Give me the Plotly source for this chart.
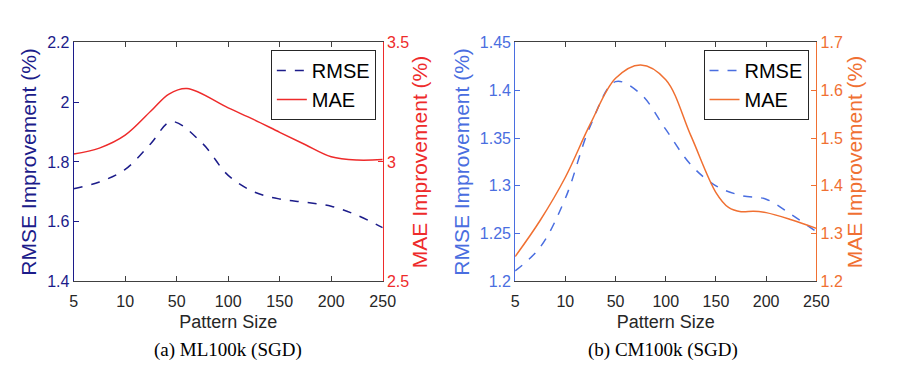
import plotly.graph_objects as go

# Category tick labels (evenly spaced on the x axis)
pattern_sizes = ["5", "10", "50", "100", "150", "200", "250"]
tick_pos = [0, 1, 2, 3, 4, 5, 6]

# Curves; positions are in units of category index
# (a) ML100k (SGD)
ml_rmse_pos = [0, 0.5, 1, 1.5, 1.9, 2.5, 3, 3.5, 4, 4.5, 5, 5.5, 6]
ml_rmse = [1.710, 1.733, 1.775, 1.862, 1.935, 1.862, 1.755, 1.700, 1.676, 1.665, 1.652, 1.622, 1.580]
ml_mae_pos = [0, 0.5, 1, 1.5, 1.85, 2.2, 3, 3.5, 4, 4.5, 5, 5.5, 6]
ml_mae = [3.033, 3.058, 3.112, 3.213, 3.284, 3.307, 3.226, 3.177, 3.124, 3.072, 3.022, 3.008, 3.010]

# (b) CM100k (SGD)
cm_rmse_pos = [0, 0.5, 1, 1.5, 2, 2.5, 3, 3.5, 4, 4.5, 5, 5.5, 6]
cm_rmse = [1.211, 1.236, 1.287, 1.363, 1.409, 1.396, 1.359, 1.322, 1.300, 1.290, 1.286, 1.270, 1.252]
cm_mae_pos = [0, 0.5, 1, 1.5, 2, 2.5, 3, 3.5, 4, 4.25, 4.5, 4.75, 5, 5.5, 6]
cm_mae = [1.252, 1.328, 1.418, 1.530, 1.625, 1.653, 1.622, 1.505, 1.386, 1.355, 1.346, 1.347, 1.344, 1.329, 1.311]

NAVY = "#1c1c8a"
RED = "#ee2b2b"
BLUE = "#4a6ee0"
ORANGE = "#f07032"
FRAME = "#404040"
FONT = "Liberation Sans, Arial, sans-serif"

fig = go.Figure()

fig.add_trace(go.Scatter(x=ml_rmse_pos, y=ml_rmse, name="RMSE", mode="lines",
                         line=dict(color=NAVY, width=1.5, dash="dash", shape="spline", smoothing=1.0),
                         xaxis="x", yaxis="y", legend="legend"))
fig.add_trace(go.Scatter(x=ml_mae_pos, y=ml_mae, name="MAE", mode="lines",
                         line=dict(color=RED, width=1.5, shape="spline", smoothing=1.0),
                         xaxis="x", yaxis="y2", legend="legend"))
fig.add_trace(go.Scatter(x=cm_rmse_pos, y=cm_rmse, name="RMSE", mode="lines",
                         line=dict(color=BLUE, width=1.5, dash="dash", shape="spline", smoothing=1.0),
                         xaxis="x2", yaxis="y3", legend="legend2"))
fig.add_trace(go.Scatter(x=cm_mae_pos, y=cm_mae, name="MAE", mode="lines",
                         line=dict(color=ORANGE, width=1.5, shape="spline", smoothing=1.0),
                         xaxis="x2", yaxis="y4", legend="legend2"))

W, H = 900, 388
ydom = [(H - 286) / H, (H - 36) / H]

def xaxis(dom, anchor):
    return dict(domain=dom, anchor=anchor, range=[0, 6], tickvals=tick_pos, ticktext=pattern_sizes,
                showgrid=False, zeroline=False, showline=True, linecolor=FRAME, linewidth=1,
                mirror="ticks", ticks="inside", ticklen=5, tickcolor=FRAME, ticklabelstandoff=5,
                tickfont=dict(family=FONT, size=16, color="#262626"),
                title=dict(text="Pattern Size", font=dict(family=FONT, size=18, color="#262626"), standoff=6))

def yaxis(rng, dtick, color, title, side, anchor, overlaying=None, standoff=4):
    d = dict(domain=ydom, anchor=anchor, range=rng, dtick=dtick, side=side,
             showgrid=False, zeroline=False, showline=True, linecolor=color, linewidth=1,
             ticks="inside", ticklen=5, tickcolor=color,
             tickfont=dict(family=FONT, size=16, color=color),
             title=dict(text=title, font=dict(family=FONT, size=21, color=color), standoff=standoff))
    if overlaying:
        d["overlaying"] = overlaying
    return d

legend_style = dict(xanchor="right", yanchor="top", bordercolor="#262626", borderwidth=1,
                    bgcolor="white", font=dict(family=FONT, size=20, color="black"),
                    tracegroupgap=0, itemwidth=30)

fig.update_layout(
    width=W, height=H,
    margin=dict(l=0, r=0, t=0, b=0),
    paper_bgcolor="white", plot_bgcolor="white",
    xaxis=xaxis([71 / W, 386 / W], "y"),
    yaxis=yaxis([1.4, 2.2], 0.2, NAVY, "RMSE Improvement (%)", "left", "x"),
    yaxis2=yaxis([2.5, 3.5], 0.5, RED, "MAE Improvement (%)", "right", "x", overlaying="y"),
    xaxis2=xaxis([521 / W, 828 / W], "y3"),
    yaxis3=yaxis([1.2, 1.45], 0.05, BLUE, "RMSE Improvement (%)", "left", "x2"),
    yaxis4=yaxis([1.2, 1.7], 0.1, ORANGE, "MAE Improvement (%)", "right", "x2", overlaying="y3"),
    legend=dict(x=379 / W, y=(H - 44) / H, **legend_style),
    legend2=dict(x=820 / W, y=(H - 44) / H, **legend_style),
    showlegend=True,
    annotations=[
        dict(text="(a) ML100k (SGD)", x=228 / W, y=(H - 358) / H, xref="paper", yref="paper",
             xanchor="center", yanchor="middle", showarrow=False,
             font=dict(family="Liberation Serif, serif", size=19, color="black")),
        dict(text="(b) CM100k (SGD)", x=672 / W, y=(H - 358) / H, xref="paper", yref="paper",
             xanchor="center", yanchor="middle", showarrow=False,
             font=dict(family="Liberation Serif, serif", size=19, color="black")),
    ],
)

fig.write_html("out.html", config={"displayModeBar": False},
               post_script="document.body.style.margin='0';")
